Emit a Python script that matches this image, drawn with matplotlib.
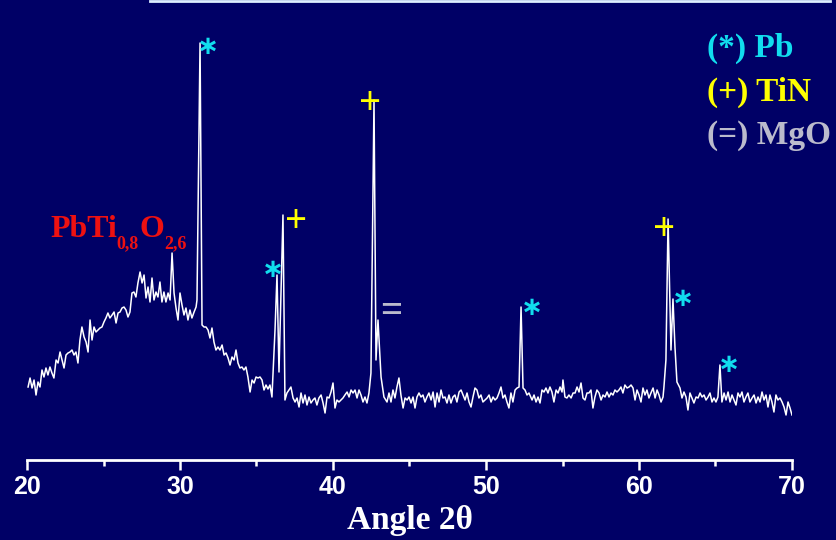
import matplotlib
matplotlib.use("Agg")
import matplotlib.pyplot as plt
from matplotlib.lines import Line2D
from matplotlib.ticker import MultipleLocator

# XRD scan: 2-theta (deg) and counts (a.u.)
two_theta = [
    20.07, 20.20, 20.33, 20.46, 20.59, 20.72, 20.85, 20.98, 21.11, 21.24,
    21.37, 21.50, 21.63, 21.76, 21.90, 22.03, 22.16, 22.29, 22.42, 22.55,
    22.68, 22.81, 22.94, 23.07, 23.20, 23.33, 23.46, 23.59, 23.73, 23.86,
    23.99, 24.12, 24.25, 24.38, 24.51, 24.64, 24.77, 24.90, 25.03, 25.16,
    25.29, 25.42, 25.56, 25.69, 25.82, 25.95, 26.08, 26.21, 26.34, 26.47,
    26.60, 26.73, 26.86, 26.99, 27.12, 27.25, 27.39, 27.52, 27.65, 27.78,
    27.91, 28.04, 28.17, 28.30, 28.43, 28.56, 28.69, 28.82, 28.95, 29.08,
    29.22, 29.35, 29.48, 29.61, 29.74, 29.87, 30.00, 30.13, 30.26, 30.39,
    30.52, 30.65, 30.78, 30.92, 31.05, 31.11, 31.31, 31.44, 31.57, 31.70,
    31.83, 31.96, 32.09, 32.22, 32.35, 32.48, 32.61, 32.75, 32.88, 33.01,
    33.14, 33.27, 33.40, 33.53, 33.66, 33.79, 33.92, 34.05, 34.18, 34.31,
    34.44, 34.58, 34.71, 34.84, 34.97, 35.10, 35.23, 35.36, 35.49, 35.62,
    35.75, 35.88, 36.01, 36.08, 36.21, 36.34, 36.47, 36.73, 36.86, 36.99,
    37.12, 37.25, 37.39, 37.52, 37.65, 37.78, 37.91, 38.04, 38.17, 38.30,
    38.43, 38.56, 38.69, 38.82, 38.95, 39.08, 39.22, 39.35, 39.48, 39.61,
    39.74, 39.87, 40.00, 40.13, 40.26, 40.39, 40.52, 40.65, 40.78, 40.92,
    41.05, 41.18, 41.31, 41.44, 41.57, 41.70, 41.83, 41.96, 42.09, 42.22,
    42.35, 42.48, 42.68, 42.81, 42.94, 43.14, 43.33, 43.53, 43.66, 43.79,
    43.92, 44.05, 44.18, 44.31, 44.44, 44.58, 44.71, 44.84, 44.97, 45.10,
    45.23, 45.36, 45.49, 45.62, 45.75, 45.88, 46.01, 46.14, 46.27, 46.41,
    46.54, 46.67, 46.80, 46.93, 47.06, 47.19, 47.32, 47.45, 47.58, 47.71,
    47.84, 47.97, 48.10, 48.24, 48.37, 48.50, 48.63, 48.76, 48.89, 49.02,
    49.15, 49.28, 49.41, 49.54, 49.67, 49.80, 49.93, 50.07, 50.20, 50.33,
    50.46, 50.59, 50.72, 50.85, 50.98, 51.11, 51.24, 51.37, 51.50, 51.63,
    51.76, 51.90, 52.03, 52.16, 52.29, 52.42, 52.55, 52.68, 52.81, 53.01,
    53.14, 53.27, 53.40, 53.53, 53.66, 53.79, 53.92, 54.05, 54.18, 54.31,
    54.44, 54.58, 54.71, 54.84, 54.97, 55.03, 55.16, 55.29, 55.42, 55.56,
    55.69, 55.82, 55.95, 56.08, 56.21, 56.34, 56.47, 56.60, 56.73, 56.86,
    56.99, 57.12, 57.25, 57.39, 57.52, 57.65, 57.78, 57.91, 58.04, 58.17,
    58.30, 58.43, 58.56, 58.69, 58.82, 58.95, 59.08, 59.22, 59.35, 59.48,
    59.61, 59.74, 59.87, 60.00, 60.13, 60.26, 60.39, 60.52, 60.65, 60.78,
    60.92, 61.05, 61.18, 61.31, 61.44, 61.57, 61.63, 61.76, 61.90, 62.09,
    62.22, 62.35, 62.48, 62.68, 62.81, 62.94, 63.07, 63.20, 63.33, 63.46,
    63.59, 63.73, 63.86, 63.99, 64.12, 64.25, 64.38, 64.51, 64.64, 64.77,
    64.90, 65.03, 65.16, 65.29, 65.42, 65.56, 65.69, 65.82, 65.95, 66.08,
    66.21, 66.34, 66.47, 66.60, 66.73, 66.86, 66.99, 67.12, 67.25, 67.39,
    67.52, 67.65, 67.78, 67.91, 68.04, 68.17, 68.30, 68.43, 68.56, 68.69,
    68.82, 68.95, 69.08, 69.22, 69.35, 69.48, 69.61, 69.74, 69.87, 70.00,
]
counts = [
    73, 82, 72, 80, 65, 78, 73, 90, 83, 92,
    85, 93, 87, 82, 100, 97, 108, 100, 92, 105,
    107, 108, 110, 105, 108, 97, 120, 133, 123, 118,
    108, 140, 120, 133, 128, 130, 132, 133, 138, 142,
    147, 142, 145, 148, 137, 147, 148, 152, 153, 150,
    143, 148, 167, 168, 163, 177, 188, 177, 185, 162,
    173, 158, 182, 160, 168, 163, 178, 158, 168, 158,
    167, 160, 207, 167, 152, 140, 167, 155, 145, 152,
    140, 150, 142, 148, 153, 160, 417, 135, 133, 133,
    130, 122, 132, 118, 110, 113, 110, 115, 105, 107,
    102, 95, 103, 100, 110, 97, 92, 93, 90, 93,
    83, 68, 80, 77, 83, 82, 83, 80, 70, 75,
    71, 75, 63, 87, 130, 185, 88, 245, 60, 67,
    70, 73, 62, 58, 62, 53, 67, 57, 65, 55,
    63, 57, 60, 62, 55, 62, 65, 57, 47, 63,
    62, 68, 77, 52, 60, 58, 60, 62, 65, 68,
    63, 70, 67, 70, 62, 70, 65, 58, 63, 57,
    67, 87, 360, 100, 140, 83, 63, 58, 67, 58,
    70, 62, 73, 82, 65, 52, 62, 60, 63, 57,
    63, 52, 63, 67, 63, 65, 58, 63, 67, 60,
    68, 53, 67, 58, 70, 62, 63, 57, 65, 57,
    63, 65, 58, 68, 70, 65, 60, 67, 58, 53,
    63, 72, 70, 62, 65, 58, 60, 62, 65, 58,
    63, 60, 62, 67, 73, 62, 65, 58, 52, 67,
    58, 70, 72, 73, 153, 72, 70, 65, 67, 60,
    65, 58, 63, 57, 70, 68, 72, 67, 73, 68,
    58, 70, 67, 73, 68, 80, 63, 62, 65, 62,
    67, 67, 73, 68, 77, 62, 60, 67, 67, 70,
    52, 63, 70, 67, 60, 65, 63, 68, 63, 67,
    65, 70, 68, 70, 73, 67, 75, 72, 73, 75,
    72, 60, 70, 65, 58, 72, 65, 70, 62, 67,
    72, 62, 70, 65, 58, 63, 73, 100, 241, 110,
    161, 113, 78, 72, 62, 68, 63, 50, 67, 62,
    57, 63, 62, 67, 63, 65, 60, 63, 67, 58,
    62, 58, 63, 95, 58, 67, 60, 68, 58, 65,
    60, 55, 67, 63, 68, 58, 63, 67, 58, 62,
    65, 57, 63, 58, 68, 60, 65, 53, 65, 58,
    48, 65, 60, 62, 58, 53, 45, 58, 52, 45,
]

# phase markers: (2-theta, counts)
pb_marks = [(31.83, 413), (36.08, 190), (53.01, 152), (62.88, 161), (65.88, 95)]
tin_marks = [(37.58, 238), (42.42, 356), (61.63, 230)]
mgo_marks = [(43.79, 147)]

legend_labels = ["(*) Pb", "(+) TiN", "(=) MgO"]
legend_colors = ["#11ddee", "#ffff00", "#bbbbcc"]

# compound label pieces: (text, font size, baseline shift in px)
formula_parts = [("PbTi", 23, 0), ("0,8", 13, -11), ("O", 23, 0), ("2,6", 13, -11)]

bg = "#000066"

fig = plt.figure(figsize=(8.37, 5.4), dpi=100, facecolor=bg)
ax = fig.add_axes([27 / 837, 80 / 540, 765 / 837, 460 / 540])
ax.set_facecolor(bg)

ax.plot(two_theta, counts, color="white", lw=1.1)

ax.set_xlim(20, 70)
ax.set_ylim(0, 460)
ax.xaxis.set_major_locator(MultipleLocator(10))
ax.xaxis.set_minor_locator(MultipleLocator(5))
ax.tick_params(axis="x", which="major", direction="out", length=7, width=1.8,
               colors="white", pad=4)
ax.tick_params(axis="x", which="minor", direction="out", length=4, width=1.8,
               colors="white")
for lab in ax.get_xticklabels():
    lab.set_family("Liberation Sans")
    lab.set_fontweight("bold")
    lab.set_fontsize(18)
ax.set_yticks([])
for side in ["left", "right", "top"]:
    ax.spines[side].set_visible(False)
ax.spines["bottom"].set_color("white")
ax.spines["bottom"].set_linewidth(2)
ax.set_xlabel("Angle 2θ", family="Liberation Serif", fontweight="bold",
              fontsize=24, color="white", labelpad=4)

for x, y in pb_marks:
    ax.text(x, y, "∗", color=legend_colors[0], fontsize=19, fontweight="bold",
            ha="center", va="center", family="DejaVu Sans")
for x, y in tin_marks:
    ax.text(x, y, "+", color=legend_colors[1], fontsize=28, fontweight="bold",
            ha="center", va="center", family="Liberation Serif")
for x, y in mgo_marks:
    ax.text(x, y, "=", color=legend_colors[2], fontsize=28, fontweight="bold",
            ha="center", va="center", family="Liberation Serif")

# red compound label, built piece by piece so the subscripts sit low
renderer = fig.canvas.get_renderer()
xpix = 50
for s, size, dy in formula_parts:
    t = fig.text(xpix / 837, (540 - 237 + dy) / 540, s, color="#ee1111",
                 fontsize=size, fontweight="bold", family="Liberation Serif",
                 ha="left", va="baseline")
    xpix += t.get_window_extent(renderer).width

for i, (lab, col) in enumerate(zip(legend_labels, legend_colors)):
    fig.text(707 / 837, 1 - (48 + 44 * i) / 540, lab, color=col, fontsize=24,
             fontweight="bold", family="Liberation Serif", ha="left", va="center")

fig.add_artist(Line2D([150 / 837, 830 / 837], [539 / 540, 539 / 540],
                      transform=fig.transFigure, color="#ddeeff", lw=2))

fig.savefig("out.png", dpi=100, facecolor=bg)
